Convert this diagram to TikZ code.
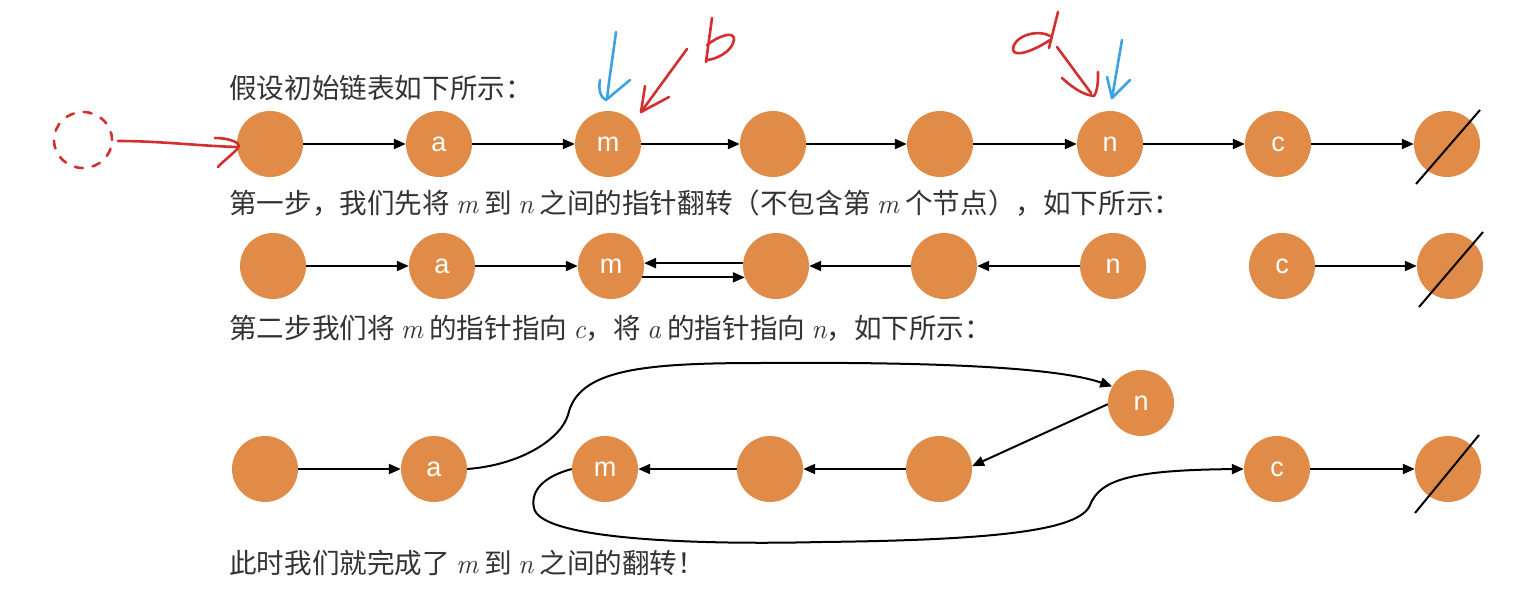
\documentclass[tikz,border=0pt]{standalone}
\usepackage{fontspec}
\setmainfont{Noto Sans CJK SC}
\newfontfamily\lblfont{Liberation Sans}
\newfontfamily\varfont{Latin Modern Roman}
\newcommand\vv[1]{{\varfont\itshape #1}}
\usetikzlibrary{arrows.meta}
\definecolor{nodeorange}{HTML}{E08C48}
\definecolor{inkred}{HTML}{D2302E}
\definecolor{inkblue}{HTML}{3BA3E3}
\definecolor{textgray}{HTML}{333333}
\begin{document}
\begin{tikzpicture}[x=1pt,y=-1pt,
  lnode/.style={circle,fill=nodeorange,minimum size=66pt,inner sep=0pt,text=white,font=\lblfont\fontsize{27}{27}\selectfont},
  link/.style={line width=2pt,-{Triangle[length=12pt,width=10pt]}},
  nullslash/.style={line width=2pt},
  caption/.style={anchor=base west,inner sep=0pt,text=textgray,font=\fontsize{27.6}{34}\selectfont},
  ink/.style={line width=2.6pt,line cap=round,line join=round}]
\useasboundingbox (0,0) rectangle (1514,592);

% captions
\node[caption] (t1) at (229,98) {假设初始链表如下所示：};
\node[caption] (t2) at (229,213) {第一步，我们先将 \vv{m} 到 \vv{n} 之间的指针翻转（不包含第 \vv{m} 个节点），如下所示：};
\node[caption] (t3) at (229,338) {第二步我们将 \vv{m} 的指针指向 \vv{c}，将 \vv{a} 的指针指向 \vv{n}，如下所示：};
\node[caption] (t4) at (229,573) {此时我们就完成了 \vv{m} 到 \vv{n} 之间的翻转！};

% row 1
\node[lnode] (r1a) at (270,144) {};
\node[lnode] (r1b) at (439,144) {a};
\node[lnode] (r1c) at (608,144) {m};
\node[lnode] (r1d) at (773,144) {};
\node[lnode] (r1e) at (940,144) {};
\node[lnode] (r1f) at (1110,144) {n};
\node[lnode] (r1g) at (1278,144) {c};
\node[lnode] (r1h) at (1447,144) {};
\draw[nullslash] ([shift={(-31,40)}]r1h.center) -- ([shift={(33,-34)}]r1h.center);
\draw[link] (r1a) -- (r1b);
\draw[link] (r1b) -- (r1c);
\draw[link] (r1c) -- (r1d);
\draw[link] (r1d) -- (r1e);
\draw[link] (r1e) -- (r1f);
\draw[link] (r1f) -- (r1g);
\draw[link] (r1g) -- (r1h);

% row 2
\node[lnode] (r2a) at (273,266) {};
\node[lnode] (r2b) at (442,266) {a};
\node[lnode] (r2c) at (611,266) {m};
\node[lnode] (r2d) at (776,266) {};
\node[lnode] (r2e) at (944,266) {};
\node[lnode] (r2f) at (1113,266) {n};
\node[lnode] (r2g) at (1282,266) {c};
\node[lnode] (r2h) at (1450,266) {};
\draw[nullslash] ([shift={(-31,41)}]r2h.center) -- ([shift={(33,-34)}]r2h.center);
\draw[link] (r2a) -- (r2b);
\draw[link] (r2b) -- (r2c);
\draw[link] (r2d.175) -- (r2c.5);
\draw[link] (r2c.-20) -- (r2d.200);
\draw[link] (r2e) -- (r2d);
\draw[link] (r2f) -- (r2e);
\draw[link] (r2g) -- (r2h);

% row 3
\node[lnode] (r3a) at (265,469) {};
\node[lnode] (r3b) at (434,469) {a};
\node[lnode] (r3c) at (605,469) {m};
\node[lnode] (r3d) at (770,469) {};
\node[lnode] (r3e) at (939,469) {};
\node[lnode] (r3n) at (1141,403) {n};
\node[lnode] (r3g) at (1277,469) {c};
\node[lnode] (r3h) at (1448,469) {};
\draw[nullslash] ([shift={(-33,44)}]r3h.center) -- ([shift={(31,-34)}]r3h.center);
\draw[link] (r3a) -- (r3b);
\draw[link] (r3b.east) .. controls (520,465) and (560,440) .. (568,415)
   .. controls (578,370) and (640,363) .. (760,363)
   .. controls (900,362) and (1050,365) .. (r3n.150);
\draw[link] (r3n.182) -- (r3e.5);
\draw[link] (r3e) -- (r3d);
\draw[link] (r3d) -- (r3c);
\draw[link] (r3c.west) .. controls (545,476) and (530,490) .. (534,508)
   .. controls (540,540) and (700,545) .. (821,542)
   .. controls (1000,540) and (1080,530) .. (1090,505)
   .. controls (1100,480) and (1130,470) .. (r3g.west);
\draw[link] (r3g) -- (r3h);

% handwritten annotations
\draw[inkred,ink,dash pattern=on 8pt off 10pt] (83,140) ellipse [x radius=29pt, y radius=28pt];
\draw[inkred,ink] (118,141) .. controls (160,141) and (200,146) .. (238,147);
\draw[inkred,ink] (215,138) .. controls (230,138) and (242,143) .. (238,148) .. controls (232,155) and (222,162) .. (218,167);

\draw[inkblue,ink] (616,32) .. controls (613,55) and (609,80) .. (607,99);
\draw[inkblue,ink] (600,80) .. controls (598,90) and (601,98) .. (606,100) -- (630,80);

\draw[inkred,ink] (687,49) -- (641,112);
\draw[inkred,ink] (645,86) -- (641,112) -- (669,97);
\draw[inkred,ink] (712,18) -- (706,62);
\draw[inkred,ink] (707,45) .. controls (718,36) and (735,30) .. (734,40) .. controls (732,52) and (715,60) .. (706,60);

\draw[inkred,ink] (1058,12) -- (1049,48);
\draw[inkred,ink] (1050,36) .. controls (1035,28) and (1012,38) .. (1013,50) .. controls (1015,58) and (1035,50) .. (1050,40);
\draw[inkred,ink] (1057,47) -- (1091,93);
\draw[inkred,ink] (1062,78) .. controls (1075,90) and (1085,95) .. (1094,96) .. controls (1098,90) and (1098,80) .. (1098,72);

\draw[inkblue,ink] (1122,40) -- (1112,98);
\draw[inkblue,ink] (1107,77) -- (1112,98) -- (1130,80);
\end{tikzpicture}
\end{document}
